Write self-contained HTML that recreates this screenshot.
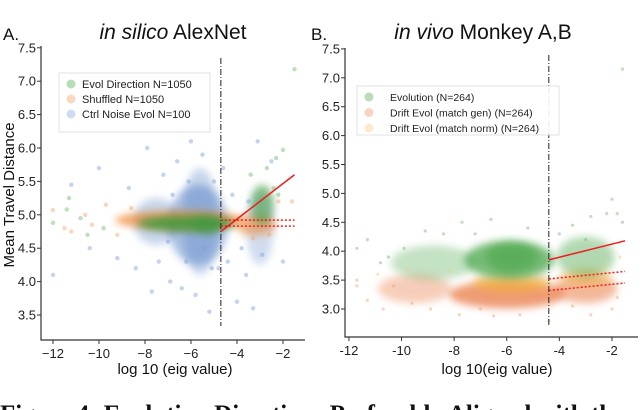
<!DOCTYPE html>
<html><head><meta charset="utf-8">
<style>
html,body{margin:0;padding:0;background:#fff;width:640px;height:410px;overflow:hidden}
text{font-family:"Liberation Sans","DejaVu Sans",sans-serif}
</style></head>
<body>
<svg id="fig" width="640" height="410" viewBox="0 0 640 410" xmlns="http://www.w3.org/2000/svg">
<defs>
<filter id="blur6" x="-50%" y="-50%" width="200%" height="200%"><feGaussianBlur stdDeviation="4"/></filter>
</defs>
<g id="panelA"></g>
<g id="panelB"></g>
<text x="0" y="422" font-weight="bold" font-size="25" fill="#111" style="font-family:'Liberation Serif',serif">Figure 4: Evolution Directions Preferably Aligned with the</text>
</svg>
<script>
// ===== Panel A data =====
const xTicksA = [-12,-10,-8,-6,-4,-2];
const yTicksA = [3.5,4.0,4.5,5.0,5.5,6.0,6.5,7.0,7.5];
// density clouds: [centerX, centerY, spreadX, spreadY, opacity]
const cloudBlueA = [[-5.7,4.85,1.3,0.6,0.45],[-5.6,4.9,0.8,0.8,0.3],[-3.0,4.8,0.6,0.55,0.25],[-7.5,4.9,1.0,0.35,0.3]];
const cloudOrangeA = [[-6.5,4.92,2.8,0.14,0.75],[-3.2,4.85,0.9,0.16,0.6]];
const cloudGreenA = [[-6.2,4.87,2.1,0.12,0.85],[-5.3,4.85,0.6,0.14,0.6],[-2.9,5.15,0.5,0.3,0.6]];
const ptsBlueA = [[-12,4.1],[-11.2,5.45],[-10.4,4.5],[-10,5.7],[-9.2,4.35],[-8.7,5.4],[-8.4,4.2],[-7.9,6.0],[-7.7,3.85],[-7.2,5.6],[-6.9,4.0],[-6.6,5.8],[-6.4,3.9],[-6,6.1],[-5.8,3.8],[-5.5,5.9],[-5.2,3.55],[-5.0,5.5],[-4.8,4.2],[-4.4,4.3],[-4.0,3.7],[-3.6,4.1],[-3.3,3.6],[-3.1,6.1],[-2.9,4.4],[-2.5,5.8],[-2.0,4.3],[-6.2,4.3],[-5.4,4.5],[-7.0,4.6],[-4.2,5.3],[-3.8,4.5],[-6.8,5.3],[-6.1,5.5],[-5.1,4.2],[-7.4,4.3],[-4.6,5.7],[-3.5,5.2]];
const ptsOrangeA = [[-12,5.07],[-11.5,4.8],[-11.2,4.75],[-10.6,5.0],[-10.3,4.85],[-9.7,5.15],[-9.2,4.7],[-8.6,5.1],[-2.2,5.2],[-1.6,5.2],[-2.6,4.7],[-3.3,4.65]];
const ptsGreenA = [[-12,4.88],[-11.4,5.08],[-11.3,5.25],[-10.8,4.95],[-10.5,4.7],[-9.8,4.8],[-1.5,7.18],[-2.0,5.97],[-2.3,5.85],[-2.4,5.4],[-2.7,5.7],[-3.4,5.6],[-2.2,5.3]];
const fitA = [[-4.7,4.75],[-1.5,5.6]];
const dotA1 = [[-4.7,4.92],[-1.5,4.92]];
const dotA2 = [[-4.7,4.83],[-1.5,4.83]];
const vlineA = -4.7;

// ===== Panel B data =====
const xTicksB = [-12,-10,-8,-6,-4,-2];
const yTicksB = [3.0,3.5,4.0,4.5,5.0,5.5,6.0,6.5,7.0,7.5];
const cloudGreenB = [[-5.9,3.85,1.7,0.33,0.7],[-5.8,3.9,1.0,0.25,0.5],[-3.0,3.9,1.1,0.35,0.4],[-8.8,3.8,1.6,0.3,0.3]];
const cloudOrangeB = [[-6.0,3.25,2.2,0.24,0.7],[-3.0,3.35,1.2,0.25,0.5],[-9.5,3.35,1.4,0.25,0.35]];
const cloudYellowB = [[-5.8,3.45,1.5,0.16,0.6],[-3.0,3.55,1.0,0.16,0.4]];
const ptsGreenB = [[-11.7,4.05],[-11.3,4.2],[-10.5,3.9],[-9.9,4.05],[-9.1,4.35],[-8.4,4.3],[-7.7,4.5],[-6.6,4.55],[-5.2,4.4],[-3.5,4.45],[-2.8,4.6],[-2.2,4.65],[-2.0,4.9],[-1.8,4.65],[-1.6,7.15],[-1.6,4.5],[-10.8,3.8],[-7.2,4.3],[-4.0,4.3],[-3.0,4.2]];
const ptsOrangeB = [[-11.7,3.5],[-11.7,3.4],[-11.3,3.15],[-10.7,3.0],[-10.3,3.4],[-9.6,3.1],[-8.9,3.0],[-7.8,2.9],[-6.5,2.88],[-5.5,2.9],[-4.4,2.8],[-2.8,2.9],[-1.8,3.2],[-2.0,3.0],[-7.0,3.0],[-3.5,3.05]];
const ptsYellowB = [[-10.9,3.6],[-9.8,3.7],[-8.2,3.65],[-2.3,3.75],[-1.7,3.9]];
const fitB = [[-4.4,3.85],[-1.5,4.18]];
const dotB1 = [[-4.4,3.52],[-1.5,3.65]];
const dotB2 = [[-4.4,3.32],[-1.5,3.45]];
const vlineB = -4.4;

const NS = "http://www.w3.org/2000/svg";
function mk(parent, tag, attrs){const e=document.createElementNS(NS,tag);for(const k in attrs)e.setAttribute(k,attrs[k]);parent.appendChild(e);return e;}

function makeAxes(cfg){
  const xs=v=>cfg.x0+(v-cfg.xmin)*cfg.xk;
  const ys=v=>cfg.y0-(v-cfg.ymin)*cfg.yk;
  return {xs,ys};
}

function drawPanel(g, cfg, clouds, pts, fit, dots, vline){
  const {xs,ys}=makeAxes(cfg);
  const cg=mk(g,'g',{});
  
  
  clouds.forEach(([arr,col])=>{
    arr.forEach(c=>{
      const el=mk(cg,'ellipse',{cx:xs(c[0]),cy:ys(c[1]),rx:c[2]*cfg.xk,ry:c[3]*cfg.yk,fill:col,opacity:c[4],filter:'url(#blur6)'});
      
      
    });
  });
  const pg=mk(g,'g',{});
  
  
  pts.forEach(([arr,col])=>{
    arr.forEach(p=>{
      const el=mk(pg,'circle',{cx:xs(p[0]),cy:ys(p[1]),r:cfg.r,fill:col,opacity:0.45});
      
      
    });
  });
  const vl=mk(g,'line',{x1:xs(vline),x2:xs(vline),y1:cfg.vy1,y2:cfg.vy2,stroke:'#222','stroke-width':1,'stroke-dasharray':'6,2,1,2'});
  
  
  const fl=mk(g,'line',{x1:xs(fit[0][0]),y1:ys(fit[0][1]),x2:xs(fit[1][0]),y2:ys(fit[1][1]),stroke:'#ee1c1c','stroke-width':1.5});
  
  
  dots.forEach(d=>{
    const dl=mk(g,'line',{x1:xs(d[0][0]),y1:ys(d[0][1]),x2:xs(d[1][0]),y2:ys(d[1][1]),stroke:'#ee1c1c','stroke-width':1.5,'stroke-dasharray':'2,2'});
    
    
  });
  const ax=mk(g,'path',{d:`M${cfg.x0} ${cfg.top} V${cfg.bot} H${cfg.right}`,fill:'none',stroke:'#333','stroke-width':1.2});
  
  
  cfg.xt.forEach(v=>{
    mk(g,'line',{x1:xs(v),x2:xs(v),y1:cfg.bot,y2:cfg.bot+4,stroke:'#333'});
    const t=mk(g,'text',{x:xs(v),y:cfg.bot+18,'text-anchor':'middle','font-size':13,fill:'#222'});
    t.textContent=(cfg.minusB&&v<0?'-':'\u2212')+Math.abs(v);
    
    
  });
  cfg.yt.forEach(v=>{
    mk(g,'line',{x1:cfg.x0-4,x2:cfg.x0,y1:ys(v),y2:ys(v),stroke:'#333'});
    const t=mk(g,'text',{x:cfg.x0-5,y:ys(v)+4.5,'text-anchor':'end','font-size':13,fill:'#222'});
    t.textContent=v.toFixed(1);
    
    
  });
}

const gA=document.getElementById('panelA');
drawPanel(gA,{x0:41,xmin:-12.52,xk:23,y0:315,ymin:3.5,yk:66.8,top:46,bot:340,right:305,vy1:58,vy2:326,r:2.2,xt:xTicksA,yt:yTicksA},
  [[cloudBlueA,'#4a78c0'],[cloudOrangeA,'#f08a3a'],[cloudGreenA,'#3c9a3c']],
  [[ptsBlueA,'#7d9fd8'],[ptsOrangeA,'#f5a66a'],[ptsGreenA,'#6cb86c']],fitA,[dotA1,dotA2],vlineA);

const gB=document.getElementById('panelB');
drawPanel(gB,{x0:345,xmin:-12.15,xk:26.3,y0:309,ymin:3.0,yk:57.8,top:48,bot:337,right:638,vy1:55,vy2:325,r:1.6,xt:xTicksB,yt:yTicksB,minusB:true},
  [[cloudOrangeB,'#e8733a'],[cloudYellowB,'#f2b030'],[cloudGreenB,'#3fa03f']],
  [[ptsGreenB,'#6cb86c'],[ptsOrangeB,'#f0a070'],[ptsYellowB,'#f5c870']],fitB,[dotB1,dotB2],vlineB);

function txt(g,x,y,s,attrs,name){const t=mk(g,'text',Object.assign({x:x,y:y},attrs));t.innerHTML=s;return t;}
txt(gA,3,40,'A.',{'font-size':17,fill:'#111'},'panel-label-a');
txt(gA,173,39,'<tspan font-style="italic">in silico</tspan> AlexNet',{'font-size':21,'text-anchor':'middle',fill:'#111'},'chart-title-a');
txt(gA,0,0,'Mean Travel Distance',{'font-size':15,'text-anchor':'middle',fill:'#111',transform:'translate(14,195) rotate(-90)'},'y-axis-title');
txt(gA,175,374,'log 10 (eig value)',{'font-size':15,'text-anchor':'middle',fill:'#111'},'x-axis-title-a');
txt(gB,311,40,'B.',{'font-size':17,fill:'#111'},'panel-label-b');
txt(gB,483,39,'<tspan font-style="italic">in vivo</tspan> Monkey A,B',{'font-size':21,'text-anchor':'middle',fill:'#111'},'chart-title-b');
txt(gB,497,374,'log 10(eig value)',{'font-size':15,'text-anchor':'middle',fill:'#111'},'x-axis-title-b');

function legend(g,x,y,w,h,items,name,tx,dy,fs){
  const lg=mk(g,'g',{});
  
  
  mk(lg,'rect',{x:x,y:y,width:w,height:h,fill:'#fff',stroke:'#ddd','stroke-width':1,opacity:0.9});
  items.forEach((it,i)=>{
    const cy=y+11+i*dy;
    const c=mk(lg,'circle',{cx:x+12,cy:cy,r:4.5,fill:it[1],opacity:0.55});
    
    
    const t=mk(lg,'text',{x:x+tx,y:cy+4,'font-size':fs,fill:'#222'});
    t.textContent=it[0];
    
    
  });
}
legend(gA,59,73,151,59,[['Evol Direction N=1050','#7fbf7f'],['Shuffled N=1050','#f7b98a'],['Ctrl Noise Evol N=100','#a9bfe6']],'legend-a',23,15,11);
legend(gB,357,86,202,49,[['Evolution (N=264)','#7fbf7f'],['Drift Evol (match gen) (N=264)','#f5b090'],['Drift Evol (match norm) (N=264)','#fad8a8']],'legend-b',33,15.5,10.5);
</script>
</body></html>
